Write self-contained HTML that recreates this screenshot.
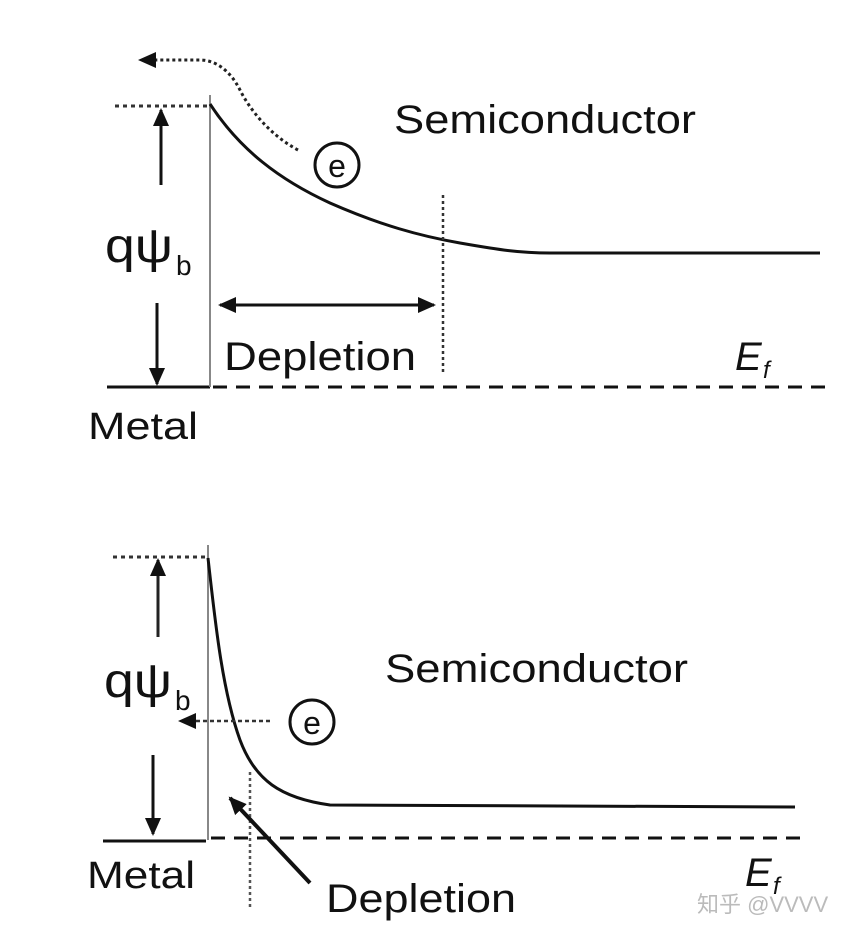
<!DOCTYPE html>
<html><head><meta charset="utf-8"><style>html,body{margin:0;padding:0;background:#fff}svg{display:block}text{font-family:"Liberation Sans","Noto Sans CJK SC",sans-serif;fill:#111}</style></head><body>
<svg width="860" height="936" viewBox="0 0 860 936" xmlns="http://www.w3.org/2000/svg">
<defs><marker id="ah" markerWidth="10" markerHeight="10" refX="8" refY="5" orient="auto" markerUnits="userSpaceOnUse"><path d="M0,0 L10,5 L0,10 Z" fill="#111"/></marker>
<marker id="ah2" markerWidth="18" markerHeight="18" refX="16" refY="9" orient="auto-start-reverse" markerUnits="userSpaceOnUse"><path d="M0,1 L18,9 L0,17 Z" fill="#111"/></marker></defs>
<!-- TOP -->
<line x1="107" y1="387" x2="210" y2="387" stroke="#111" stroke-width="3"/>
<line x1="210" y1="95" x2="210" y2="387" stroke="#888" stroke-width="2"/>
<line x1="213" y1="387" x2="825" y2="387" stroke="#111" stroke-width="3" stroke-dasharray="14,9"/>
<line x1="115" y1="106" x2="208" y2="106" stroke="#333" stroke-width="3" stroke-dasharray="4,4"/>
<path d="M210,104 C240,150 280,180 330,203 C380,225 420,236 460,243 C500,250 520,253 550,253 L820,253" fill="none" stroke="#111" stroke-width="3"/>
<line x1="443" y1="195" x2="443" y2="372" stroke="#333" stroke-width="2.5" stroke-dasharray="3,3"/>
<line x1="220" y1="305" x2="434" y2="305" stroke="#111" stroke-width="3" marker-end="url(#ah2)" marker-start="url(#ah2)"/>
<line x1="161" y1="185" x2="161" y2="110" stroke="#111" stroke-width="3" marker-end="url(#ah2)"/>
<line x1="157" y1="303" x2="157" y2="384" stroke="#111" stroke-width="3" marker-end="url(#ah2)"/>
<path d="M298,150 C270,135 250,110 240,90 C230,70 215,60 200,60 L140,60" fill="none" stroke="#222" stroke-width="3" stroke-dasharray="3,3" marker-end="url(#ah2)"/>
<circle cx="337" cy="165" r="22" fill="none" stroke="#111" stroke-width="3"/>
<text x="337" y="177" font-size="32" text-anchor="middle">e</text>
<text x="105" y="262" font-size="48" textLength="68" lengthAdjust="spacingAndGlyphs">qψ</text>
<text x="176" y="275" font-size="28">b</text>
<text x="224" y="370" font-size="40" textLength="192" lengthAdjust="spacingAndGlyphs">Depletion</text>
<text x="88" y="439" font-size="38" textLength="110" lengthAdjust="spacingAndGlyphs">Metal</text>
<text x="394" y="133" font-size="40" textLength="302" lengthAdjust="spacingAndGlyphs">Semiconductor</text>
<text x="735" y="370" font-size="40" font-style="italic">E</text>
<text x="763" y="378" font-size="24" font-style="italic">f</text>
<!-- BOTTOM -->
<line x1="103" y1="841" x2="206" y2="841" stroke="#111" stroke-width="3"/>
<line x1="208" y1="545" x2="208" y2="840" stroke="#888" stroke-width="2"/>
<line x1="211" y1="838" x2="800" y2="838" stroke="#111" stroke-width="3" stroke-dasharray="14,9"/>
<line x1="113" y1="557" x2="206" y2="557" stroke="#333" stroke-width="3" stroke-dasharray="4,4"/>
<path d="M208,558 C215,620 222,690 240,740 C255,780 280,798 330,805 L795,807" fill="none" stroke="#111" stroke-width="3"/>
<line x1="250" y1="772" x2="250" y2="908" stroke="#555" stroke-width="2.5" stroke-dasharray="3,3"/>
<line x1="270" y1="721" x2="180" y2="721" stroke="#333" stroke-width="2.5" stroke-dasharray="4,3" marker-end="url(#ah2)"/>
<line x1="310" y1="883" x2="230" y2="798" stroke="#111" stroke-width="4" marker-end="url(#ah2)"/>
<line x1="158" y1="637" x2="158" y2="560" stroke="#222" stroke-width="3" marker-end="url(#ah2)"/>
<line x1="153" y1="755" x2="153" y2="834" stroke="#111" stroke-width="3" marker-end="url(#ah2)"/>
<circle cx="312" cy="722" r="22" fill="none" stroke="#111" stroke-width="3"/>
<text x="312" y="734" font-size="32" text-anchor="middle">e</text>
<text x="104" y="697" font-size="48" textLength="68" lengthAdjust="spacingAndGlyphs">qψ</text>
<text x="175" y="710" font-size="28">b</text>
<text x="326" y="912" font-size="40" textLength="190" lengthAdjust="spacingAndGlyphs">Depletion</text>
<text x="87" y="888" font-size="38" textLength="108" lengthAdjust="spacingAndGlyphs">Metal</text>
<text x="385" y="682" font-size="40" textLength="303" lengthAdjust="spacingAndGlyphs">Semiconductor</text>
<text x="745" y="886" font-size="40" font-style="italic">E</text>
<text x="773" y="894" font-size="24" font-style="italic">f</text>
<text x="697" y="912" font-size="22" style="fill:#bbb">知乎 @VVVV</text>
</svg>
</body></html>
